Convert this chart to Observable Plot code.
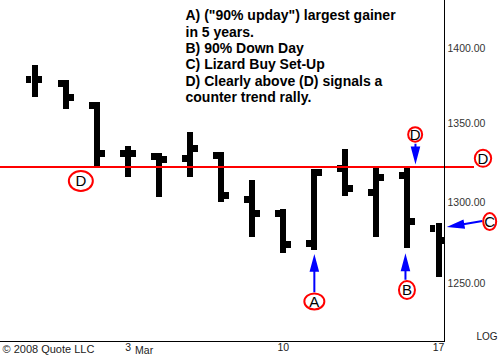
<!DOCTYPE html>
<html><head><meta charset="utf-8">
<script src="https://cdn.jsdelivr.net/npm/d3@7"></script>
<script src="https://cdn.jsdelivr.net/npm/@observablehq/plot@0.6"></script>
<style>
html,body{margin:0;padding:0;background:#fff;}
#chart svg{display:block;}
</style></head><body><div id="chart"></div>
<script>
// ---- data ----
const dates = ["Feb 27","Feb 28","Feb 29","Mar 3","Mar 4","Mar 5","Mar 6","Mar 7","Mar 10","Mar 11","Mar 12","Mar 13","Mar 14","Mar 17"];
const open  = [1379.5, 1376.4, 1361.9, 1331.1, 1328.9, 1327.5, 1329.8, 1301.5, 1293.1, 1274.2, 1321.1, 1305.8, 1316.9, 1283.4];
const high  = [1388.6, 1378.6, 1363.9, 1335.6, 1330.7, 1344.3, 1331.7, 1313.7, 1295.2, 1320.7, 1333.5, 1321.1, 1321.1, 1286.9];
const low   = [1367.5, 1359.3, 1322.6, 1315.8, 1303.1, 1315.8, 1299.6, 1278.2, 1268.4, 1270.1, 1303.8, 1278.2, 1271.1, 1253.4];
const close = [1379.5, 1367.5, 1330.7, 1331.1, 1326.9, 1333.9, 1304.2, 1293.2, 1273.6, 1318.6, 1308.4, 1315.8, 1288.1, 1276.2];

const redLevel = 1322;
const yTicks = [1250, 1300, 1350, 1400];
const xTickDates = ["Mar 3", "Mar 10", "Mar 17"];
const xTickLabels = ["3", "10", "17"];
const monthDate = "Mar 3";
const monthLabel = "Mar";
const scaleLabel = "LOG";
const credit = "\u00A9 2008 Quote LLC";
const noteLines = [
  "A) (\"90% upday\") largest gainer",
  "in 5 years.",
  "B) 90% Down Day",
  "C) Lizard Buy Set-Up",
  "D) Clearly above (D) signals a",
  "counter trend rally."
];
// callouts: letter, date, price (center of circled letter)
const calloutLetters = ["A", "B", "D", "D"];
const calloutDates   = ["Mar 11", "Mar 14", "Feb 28", "Mar 14"];
const calloutPrices  = [1239.2, 1246.1, 1313.4, 1343.2];
// callouts on the right margin (beyond the last date)
const sideLetters = ["D", "C"];
const sidePrices  = [1327.8, 1287.9];
// arrow tips
const arrowDates  = ["Mar 11", "Mar 14", "Mar 14"];
const arrowPrices = [1265.6, 1266.0, 1326.4];
const sideArrowPrice = 1284.9;

// ---- tables built from the arrays ----
const bars = dates.map((date, i) => ({date, open: open[i], high: high[i], low: low[i], close: close[i]}));
const callouts = calloutLetters.map((letter, i) => ({letter, date: calloutDates[i], price: calloutPrices[i]}));
const sides = sideLetters.map((letter, i) => ({letter, price: sidePrices[i]}));
const arrows = arrowDates.map((date, i) => ({date, price: arrowPrices[i]}));
const xTicks = xTickDates.map((date, i) => ({date, label: xTickLabels[i]}));

const font = '"Liberation Sans", Arial, Helvetica, sans-serif';

function ellipse(rx, ry) {
  const k = 0.5522847;
  return {draw(ctx) {
    ctx.moveTo(rx, 0);
    ctx.bezierCurveTo(rx, ry * k, rx * k, ry, 0, ry);
    ctx.bezierCurveTo(-rx * k, ry, -rx, ry * k, -rx, 0);
    ctx.bezierCurveTo(-rx, -ry * k, -rx * k, -ry, 0, -ry);
    ctx.bezierCurveTo(rx * k, -ry, rx, -ry * k, rx, 0);
    ctx.closePath();
  }};
}
const arrowShape = {draw(ctx, l) {
  const h = 13, w = 3.5;
  ctx.moveTo(0, 0); ctx.lineTo(0, -l + h);
  ctx.moveTo(0, -l); ctx.lineTo(w, -l + h); ctx.lineTo(-w, -l + h); ctx.closePath();
}};

const ring = (data, rx, ry, opts) => Plot.dot(data, {symbol: ellipse(rx, ry), r: 5, fill: "none", stroke: "#ff0000", strokeWidth: 2, ...opts});
const letter = (data, opts) => Plot.text(data, {text: "letter", fontSize: 15, fill: "#000", textAnchor: "middle", lineAnchor: "middle", dy: 0.5, ...opts});
const blueArrow = (data, opts) => Plot.vector(data, {shape: arrowShape, anchor: "end", stroke: "#0000ff", fill: "#0000ff", strokeWidth: 2, strokeLinejoin: "miter", strokeLinecap: "butt", ...opts});

const chart = Plot.plot({
  width: 499,
  height: 362,
  marginTop: 0, marginRight: 55, marginBottom: 21, marginLeft: 0,
  style: {fontFamily: font, fontSize: "11px", background: "#fff", color: "#000"},
  x: {type: "band", domain: dates, range: [18.98, 453.52], paddingInner: 0.4845, paddingOuter: 0.24225, align: 0.5, round: false, axis: null},
  y: {type: "log", domain: [1215.5, 1432.9], range: [341, 0], axis: null},
  marks: [
    // OHLC bars
    Plot.ruleX(bars, {x: "date", y1: "low", y2: "high", stroke: "#000", strokeWidth: 6, shapeRendering: "crispEdges"}),
    Plot.tickY(bars, {x: "date", y: "open", stroke: "#000", strokeWidth: 7, insetRight: 11, shapeRendering: "crispEdges"}),
    Plot.tickY(bars, {x: "date", y: "close", stroke: "#000", strokeWidth: 7, insetLeft: 11, clip: true, shapeRendering: "crispEdges"}),
    // red level line
    Plot.ruleY([redLevel], {stroke: "#ff0000", strokeWidth: 2, insetRight: -30, shapeRendering: "crispEdges"}),
    // frame lines
    Plot.frame({anchor: "right", stroke: "#000", shapeRendering: "crispEdges"}),
    Plot.frame({anchor: "bottom", stroke: "#000", shapeRendering: "crispEdges"}),
    // y axis labels
    Plot.axisY(yTicks, {anchor: "right", tickSize: 0, tickPadding: 3, tickFormat: d3.format(".2f"), fontSize: 10.5, fill: "#333", label: null}),
    // x labels
    Plot.text(xTicks, {x: "date", text: "label", frameAnchor: "bottom", textAnchor: "middle", lineAnchor: "bottom", dy: 9, fontSize: 10.5, fill: "#222"}),
    Plot.text([monthLabel], {x: () => monthDate, frameAnchor: "bottom", textAnchor: "start", lineAnchor: "bottom", dx: 7, dy: 12, fontSize: 10.5, fill: "#222"}),
    Plot.text([credit], {frameAnchor: "bottom-left", textAnchor: "start", lineAnchor: "bottom", dx: 2, dy: 11.7, fontSize: 11, fill: "#222"}),
    Plot.text([scaleLabel], {frameAnchor: "bottom-right", textAnchor: "end", lineAnchor: "bottom", dx: 53, dy: -1.7, fontSize: 10, fill: "#222"}),
    // note block
    Plot.text([noteLines.join("\n")], {frameAnchor: "top-left", textAnchor: "start", lineAnchor: "top", lineHeight: 1.163, dx: 185, dy: 8.4, fontSize: 14, fontWeight: "bold", fill: "#000"}),
    // blue arrows
    blueArrow([arrows[0]], {x: "date", y: "price", length: 34.4, rotate: 0}),
    blueArrow([arrows[1]], {x: "date", y: "price", length: 22.6, rotate: 0, dx: -2}),
    blueArrow([arrows[2]], {x: "date", y: "price", length: 16.7, rotate: 180, dx: 8}),
    blueArrow([sideArrowPrice], {y: d => d, frameAnchor: "right", length: 32.3, rotate: 260.5, dx: 6}),
    // circled letters
    ring([callouts[0]], 10, 8, {x: "date", y: "price"}),
    ring([callouts[1]], 8, 9, {x: "date", y: "price", dx: -0.5}),
    ring([callouts[2]], 12, 10, {x: "date", y: "price", dx: 14.8}),
    ring([callouts[3]], 7, 7.3, {x: "date", y: "price", dx: 7.7}),
    ring([sides[0]], 8.2, 8.5, {y: "price", frameAnchor: "right", dx: 38.5}),
    ring([sides[1]], 6.5, 8.5, {y: "price", frameAnchor: "right", dx: 45.2}),
    letter([callouts[0]], {x: "date", y: "price"}),
    letter([callouts[1]], {x: "date", y: "price", dx: -0.5}),
    letter([callouts[2]], {x: "date", y: "price", dx: 14.8}),
    letter([callouts[3]], {x: "date", y: "price", dx: 7.7}),
    letter([sides[0]], {y: "price", frameAnchor: "right", dx: 38.5}),
    letter([sides[1]], {y: "price", frameAnchor: "right", dx: 45.2})
  ]
});
document.getElementById("chart").appendChild(chart);
</script>
</body></html>
